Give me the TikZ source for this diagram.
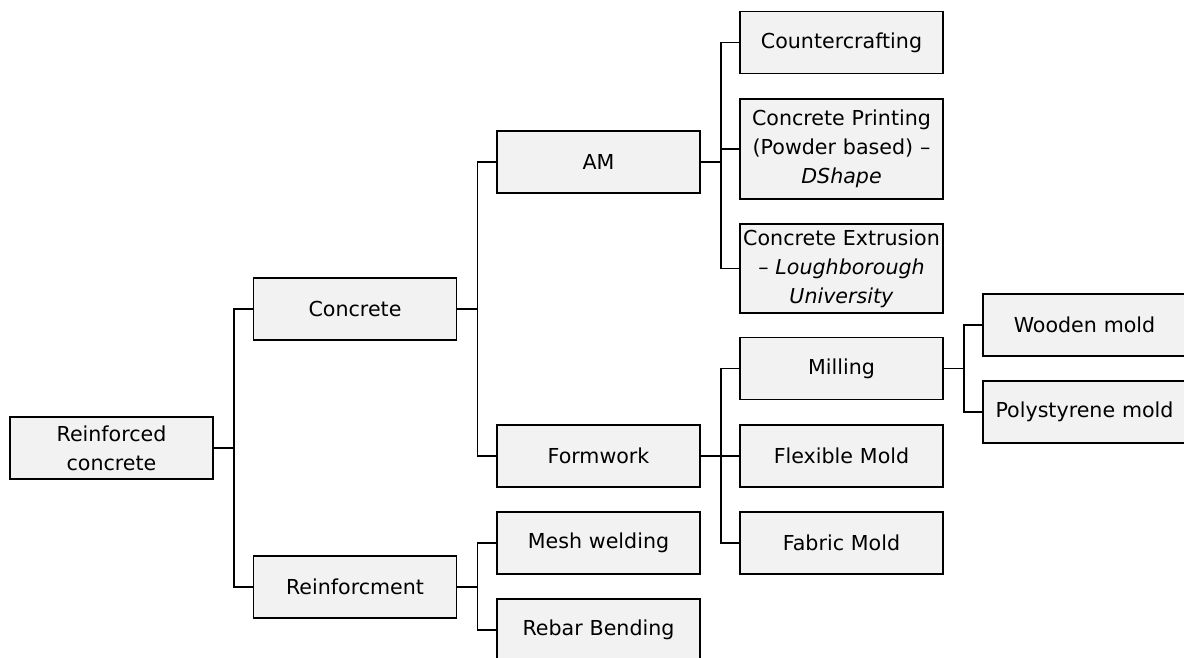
\documentclass[tikz,border=0pt]{standalone}
\usepackage{fontspec}
\setmainfont{DejaVu Sans}
\usepackage{xcolor}
\usepackage{tikz}

\definecolor{boxgray}{HTML}{F2F2F2}

\begin{document}
\begin{tikzpicture}[x=1pt, y=-1pt, line width=1.5pt,
    item/.style={draw=black, fill=boxgray, minimum width=203pt, minimum height=62pt,
        text width=197pt, inner sep=3pt, align=center,
        font=\fontsize{20.6}{29}\selectfont}]
    \useasboundingbox (0,0) rectangle (1184,657);
    \node[item] (root) at (111.5,448) {Reinforced\\concrete};
    \node[item] (conc) at (355,309) {Concrete};
    \node[item] (reinf) at (355,587) {Reinforcment};
    \node[item] (am) at (598.5,162) {AM};
    \node[item] (form) at (598.5,456) {Formwork};
    \node[item] (mesh) at (598.5,543) {Mesh welding};
    \node[item] (rebar) at (598.5,630) {Rebar Bending};
    \node[item] (counter) at (841.5,42.5) {Countercrafting};
    \node[item, minimum height=100pt] (print) at (841.5,149) {Concrete Printing\\(Powder based) --\\\textit{DShape}};
    \node[item, minimum height=89pt, inner sep=0pt, text width=203pt] (extr) at (841.5,268.5) {Concrete Extrusion\\-- \textit{Loughborough}\\\textit{University}};
    \node[item] (mill) at (841.5,368.5) {Milling};
    \node[item] (flex) at (841.5,456) {Flexible Mold};
    \node[item] (fabric) at (841.5,543) {Fabric Mold};
    \node[item] (wood) at (1084.5,325) {Wooden mold};
    \node[item] (poly) at (1084.5,412) {Polystyrene mold};

    \draw (root.east) -- ++(20,0) |- (conc.west);
    \draw (root.east) -- ++(20,0) |- (reinf.west);
    \draw (conc.east) -- ++(20,0) |- (am.west);
    \draw (conc.east) -- ++(20,0) |- (form.west);
    \draw (reinf.east) -- ++(20,0) |- (mesh.west);
    \draw (reinf.east) -- ++(20,0) |- (rebar.west);
    \draw (am.east) -- ++(20,0) |- (counter.west);
    \draw (am.east) -- ++(20,0) |- (print.west);
    \draw (am.east) -- ++(20,0) |- (extr.west);
    \draw (form.east) -- ++(20,0) |- (mill.west);
    \draw (form.east) -- ++(20,0) |- (flex.west);
    \draw (form.east) -- ++(20,0) |- (fabric.west);
    \draw (mill.east) -- ++(20,0) |- (wood.west);
    \draw (mill.east) -- ++(20,0) |- (poly.west);
\end{tikzpicture}
\end{document}
